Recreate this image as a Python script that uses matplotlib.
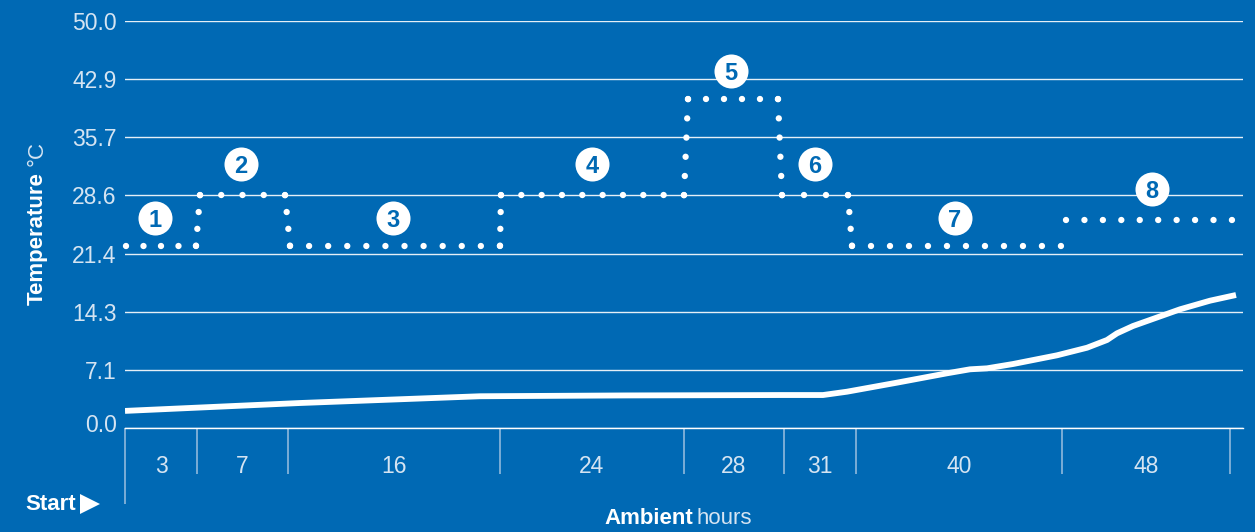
import numpy as np
import matplotlib.pyplot as plt
from matplotlib.lines import Line2D
from matplotlib.transforms import ScaledTranslation

plt.rcParams['font.family'] = ['Liberation Sans', 'DejaVu Sans']

BLUE = '#0069b4'
PALE = '#d5e4f2'

# stage borders along the x axis (arbitrary units, one unit = one pixel)
stage_edges = [0, 72, 163, 375, 559, 659, 731, 937, 1105]
stage_labels = ['3', '7', '16', '24', '28', '31', '40', '48']

y_ticks = [0.0, 7.1, 14.3, 21.4, 28.6, 35.7, 42.9, 50.0]

# set temperature, dotted line: each piece is x0, y0, x1, y1, number of gaps
set_pieces = [
    (1, 22.4, 71, 22.4, 4),
    (71, 22.4, 75, 28.6, 3),
    (75, 28.6, 160, 28.6, 4),
    (160, 28.6, 165, 22.4, 3),
    (165, 22.4, 375, 22.4, 11),
    (375, 22.4, 376, 28.6, 3),
    (376, 28.6, 559, 28.6, 9),
    (559, 28.6, 563, 40.4, 5),
    (563, 40.4, 653, 40.4, 5),
    (653, 40.4, 657, 28.6, 5),
    (657, 28.6, 723, 28.6, 3),
    (723, 28.6, 727, 22.4, 3),
    (727, 22.4, 936, 22.4, 11),
    (941, 25.5, 1107, 25.5, 9),
]

# ambient temperature curve
ambient_x = [0, 175, 355, 500, 655, 698, 722, 772, 822, 845, 862, 888, 932, 962, 982, 992, 1008, 1055, 1085, 1111]
ambient_y = [2.1, 3.07, 3.9, 4.0, 4.05, 4.05, 4.46, 5.57, 6.72, 7.21, 7.33, 7.86, 8.93, 9.86, 10.81, 11.63, 12.53, 14.58, 15.64, 16.34]

# numbered badges
badge_labels = ['1', '2', '3', '4', '5', '6', '7', '8']
badge_x = [30, 116, 268, 467, 606, 690, 830, 1027]
badge_y = [25.8, 32.4, 25.8, 32.4, 43.9, 32.4, 25.8, 29.4]

fig = plt.figure(figsize=(12.55, 5.32), dpi=100, facecolor=BLUE)
ax = fig.add_axes([125 / 1255, 1 - 428 / 532, 1118 / 1255, 407 / 532], facecolor=BLUE)
ax.set_xlim(0, 1118)
ax.set_ylim(0, 50)

for s in ['top', 'left', 'right']:
    ax.spines[s].set_visible(False)
ax.spines['bottom'].set_color('white')
ax.spines['bottom'].set_linewidth(1.0)

ax.set_yticks(y_ticks)
ax.set_yticklabels(['%.1f' % v for v in y_ticks], fontsize=16.5, color=PALE)
ax.tick_params(axis='y', length=0, pad=6)
# the 0.0 label sits a little above its line
zero_label = ax.get_yticklabels()[0]
zero_label.set_transform(zero_label.get_transform() + ScaledTranslation(0, 3.5 / 72, fig.dpi_scale_trans))
ax.grid(axis='y', color='white', linewidth=1.0, alpha=0.9)
ax.set_axisbelow(True)

ax.set_xticks(stage_edges)
ax.set_xticklabels([])
ax.tick_params(axis='x', which='major', length=33, width=1.1, color='#9cc0e0')
ax.xaxis.get_major_ticks()[0].tick1line.set_markersize(55)

centers = [(a + b) / 2 for a, b in zip(stage_edges[:-1], stage_edges[1:])]
ax.set_xticks(centers, minor=True)
ax.set_xticklabels(stage_labels, minor=True, fontsize=16.5, color=PALE)
ax.tick_params(axis='x', which='minor', length=0, pad=19.5)

# ambient
ax.plot(ambient_x, ambient_y, color='white', linewidth=4.2, solid_capstyle='butt',
        solid_joinstyle='round', zorder=3)

# dotted set temperature, dot period worked out so each piece ends on a dot
fig.canvas.draw()
lw = 4.6
for x0, y0, x1, y1, gaps in set_pieces:
    p0, p1 = ax.transData.transform([(x0, y0), (x1, y1)])
    length_pt = np.hypot(*(p1 - p0)) * 72 / fig.dpi
    period = length_pt / gaps / lw
    ax.plot([x0, x1], [y0, y1], color='white', linewidth=lw, clip_on=False, zorder=4,
            linestyle=(0, (0.001, period - 0.002)), dash_capstyle='round')

# badges
ax.plot(badge_x, badge_y, 'o', color='white', markersize=24.5, markeredgewidth=0, zorder=5, clip_on=False)
for x, y, t in zip(badge_x, badge_y, badge_labels):
    ax.text(x, y, t, color=BLUE, fontsize=17, fontweight='bold', ha='center', va='center_baseline', zorder=6)

fig.text(37 / 1255, 1 - 239 / 532, 'Temperature', rotation=90, color='white', fontsize=16,
         fontweight='bold', ha='center', va='center')
fig.text(37 / 1255, 1 - 153 / 532, '°C', rotation=90, color=PALE, fontsize=16, ha='center', va='center')
fig.text(604 / 1255, 1 - 518 / 532, 'Ambient', color='white', fontsize=16, fontweight='bold', ha='left', va='center')
fig.text(697 / 1255, 1 - 518 / 532, 'hours', color=PALE, fontsize=16, ha='left', va='center')
fig.text(25 / 1255, 1 - 504 / 532, 'Start', color='white', fontsize=16, fontweight='bold', ha='left', va='center')
fig.add_artist(Line2D([90 / 1255], [1 - 504 / 532], marker='>', markersize=15, color='white',
                      markeredgewidth=0, transform=fig.transFigure))

fig.savefig('out.png', dpi=100, facecolor=BLUE)
